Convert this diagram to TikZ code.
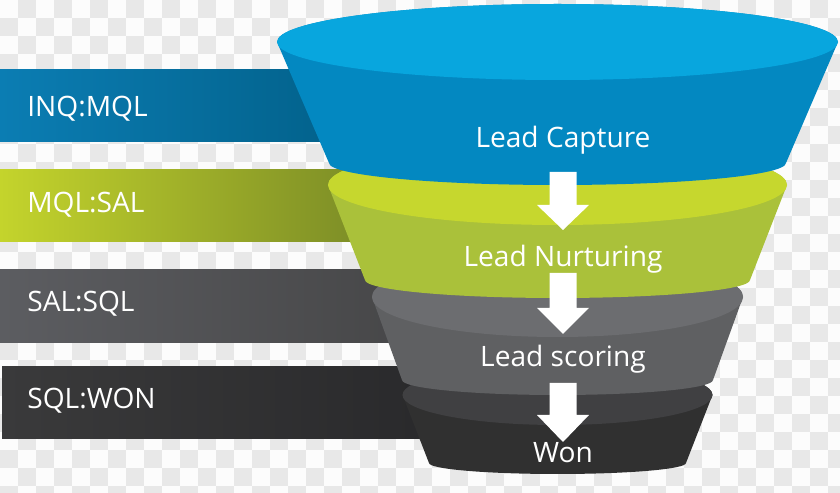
\documentclass[tikz,border=0pt]{standalone}
\usepackage{fontspec}
\setmainfont{Open Sans}
\definecolor{scacco}{HTML}{E8E8E8}
\definecolor{bluTop}{HTML}{08A6DE}
\definecolor{bluCorpo}{HTML}{0388C1}
\definecolor{verdeTop}{HTML}{C6D72E}
\definecolor{verdeCorpo}{HTML}{AAC13A}
\definecolor{grigioTop}{HTML}{6C6D70}
\definecolor{grigioCorpo}{HTML}{5F6062}
\definecolor{scuroTop}{HTML}{404042}
\definecolor{scuroCorpo}{HTML}{303030}
\definecolor{inqL}{HTML}{0B7DB3}
\definecolor{inqR}{HTML}{005B82}
\definecolor{mqlL}{HTML}{C4D42C}
\definecolor{mqlR}{HTML}{6B7C25}
\definecolor{salL}{HTML}{5C5D61}
\definecolor{salR}{HTML}{444445}
\definecolor{sqlL}{HTML}{3A3A3B}
\definecolor{sqlR}{HTML}{28282A}
\begin{document}
\begin{tikzpicture}[x=0.02cm, y=-0.02cm,
			etich/.style={text=white, inner sep=0pt, font=\fontsize{16}{18}\selectfont},
			fascia/.style={anchor=base west},
			livello/.style={anchor=base},
			freccia/.style={fill=white},
			]
			
			%% forme ripetute --------------------------------
			%% tronco di cono: ytop, rx top, ry top, ybot, rx bot, ry bot, corpo, bordo
			\newcommand{\tronco}[8]{%
				\fill[#7](557.5-#2,#1)--(557.5-#5,#4)
				arc[start angle=180, end angle=0, x radius=#5, y radius=#6]
				--(557.5+#2,#1)
				arc[start angle=0, end angle=-180, x radius=#2, y radius=#3]--cycle;
				\fill[#8](557.5,#1) ellipse[x radius=#2, y radius=#3];}
			%% freccia piena: x, inizio, collo, punta
			\newcommand{\freccia}[4]{%
				\fill[freccia](#1-13.5,#2)--(#1+13.5,#2)--(#1+13.5,#3)--(#1+26,#3)
				--(#1,#4)--(#1-26,#3)--(#1-13.5,#3)--cycle;}
			
			\useasboundingbox (0,0) rectangle (840,493);
			
			%% =========================================================
			%% sfondo a scacchi
			%% =========================================================
			\begin{scope}
				\clip (0,0) rectangle (840,493);
				\fill[white!99!black](0,0) rectangle (840,493);
				\foreach \i in {0,...,46}
				\foreach \j in {0,...,27}{
					\pgfmathtruncatemacro{\s}{mod(\i+\j,2)}
					\ifnum\s=1 \fill[scacco](18*\i,18*\j) rectangle ++(18,18);\fi}
			\end{scope}
			
			%% =========================================================
			%% fasce a sinistra
			%% =========================================================
			\shade[left color=inqL, right color=inqR](0,70) rectangle (420,142);
			\shade[left color=mqlL, right color=mqlR](0,170) rectangle (450,242);
			\shade[left color=salL, right color=salR](0,270) rectangle (460,343);
			\shade[left color=sqlL, right color=sqlR](2,367) rectangle (470,439);
			\node[etich,fascia](inq) at (27,117){INQ:MQL};
			\node[etich,fascia](mql) at (27,213){MQL:SAL};
			\node[etich,fascia](sal) at (27,312){SAL:SQL};
			\node[etich,fascia](sql) at (27,409){SQL:WON};
			
			%% =========================================================
			%% imbuto (dal basso verso l'alto)
			%% =========================================================
			\tronco{395}{155}{30}{463}{128.5}{11}{scuroCorpo}{scuroTop}
			\tronco{297}{185.5}{40}{380}{155.5}{15}{grigioCorpo}{grigioTop}
			\tronco{185}{229.5}{40}{280}{192.5}{18}{verdeCorpo}{verdeTop}
			\tronco{42}{280.5}{38}{163}{228.5}{22}{bluCorpo}{bluTop}
			
			%% frecce tra i livelli
			\freccia{563}{172}{205}{230}
			\freccia{563}{273}{308}{334}
			\freccia{563}{383}{415}{442}
			
			%% etichette dei livelli
			\node[etich,livello](capture) at (563,148){Lead Capture};
			\node[etich,livello](nurture) at (563,267){Lead Nurturing};
			\node[etich,livello](scoring) at (563,367){Lead scoring};
			\node[etich,livello](won) at (563,463){Won};
			
	\end{tikzpicture}
\end{document}
